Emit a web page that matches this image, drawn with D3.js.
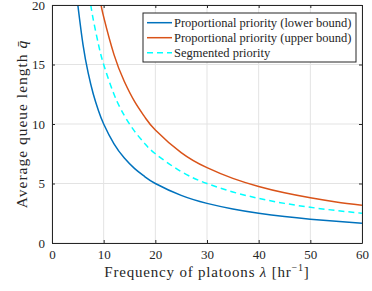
<!DOCTYPE html>
<html>
<head>
<meta charset="utf-8">
<script src="https://cdn.jsdelivr.net/npm/d3@7"></script>
<style>
  body { margin: 0; background: #fff; }
  svg text { font-family: "Liberation Serif", serif; fill: #262626; }
</style>
</head>
<body>
<svg id="chart" width="372" height="291" font-family="Liberation Serif"></svg>
<script>
// values
const xTicks = [0, 10, 20, 30, 40, 50, 60];
const yTicks = [0, 5, 10, 15, 20];

const lowerLambda = [5, 6, 7, 8, 9, 10, 12, 14, 16, 18, 20, 25, 30, 35, 40, 45, 50, 55, 60];
const lowerQ = [20, 16.67, 14.29, 12.5, 11.11, 10, 8.33, 7.14, 6.25, 5.56, 5, 4, 3.33, 2.86, 2.5, 2.22, 2.0, 1.82, 1.67];

const upperLambda = [9.5, 10, 12, 14, 16, 18, 20, 25, 30, 35, 40, 45, 50, 55, 60];
const upperQ = [20, 19, 15.83, 13.57, 11.88, 10.56, 9.5, 7.6, 6.33, 5.43, 4.75, 4.22, 3.8, 3.45, 3.17];

const segLambda = [7.5, 8, 9, 10, 12, 14, 16, 18, 20, 25, 30, 35, 40, 45, 50, 55, 60];
const segQ = [20, 18.75, 16.67, 15, 12.5, 10.71, 9.38, 8.33, 7.5, 6, 5, 4.29, 3.75, 3.33, 3.0, 2.73, 2.5];

const seriesNames = ["Proportional priority (lower bound)", "Proportional priority (upper bound)", "Segmented priority"];
const seriesColors = ["#0072BD", "#D95319", "#00FFFF"];

const margin = { left: 52, right: 10, top: 5, bottom: 48 };
const W = 372, H = 291;
const serif = "Liberation Serif";

const svg = d3.select("#chart");

const x = d3.scaleLinear().domain([0, 60]).range([margin.left, W - margin.right]);
const y = d3.scaleLinear().domain([0, 20]).range([H - margin.bottom, margin.top]);

// grid
svg.append("g")
  .selectAll("line")
  .data(xTicks)
  .join("line")
  .attr("x1", d => x(d)).attr("x2", d => x(d))
  .attr("y1", y(0)).attr("y2", y(20))
  .attr("stroke", "#e3e3e3").attr("stroke-width", 1);
svg.append("g")
  .selectAll("line")
  .data(yTicks)
  .join("line")
  .attr("x1", x(0)).attr("x2", x(60))
  .attr("y1", d => y(d)).attr("y2", d => y(d))
  .attr("stroke", "#e3e3e3").attr("stroke-width", 1);

// curves
svg.append("clipPath").attr("id", "clip")
  .append("rect")
  .attr("x", x(0)).attr("y", y(20))
  .attr("width", x(60) - x(0)).attr("height", y(0) - y(20));

const line = d3.line()
  .x(d => x(d[0]))
  .y(d => y(d[1]))
  .curve(d3.curveNatural);

const series = [
  d3.zip(lowerLambda, lowerQ),
  d3.zip(upperLambda, upperQ),
  d3.zip(segLambda, segQ)
];

svg.append("g").attr("clip-path", "url(#clip)")
  .selectAll("path")
  .data(series)
  .join("path")
  .attr("d", line)
  .attr("fill", "none")
  .attr("stroke", (d, i) => seriesColors[i])
  .attr("stroke-width", 1.5)
  .attr("stroke-dasharray", (d, i) => i == 2 ? "6,4" : null);

// axes (MATLAB style, ticks pointing in, box on)
const axisColor = "#262626";
const tl = 3;

const gx = svg.append("g")
  .attr("transform", `translate(0,${y(0)})`)
  .call(d3.axisBottom(x).tickValues(xTicks).tickSizeInner(-tl).tickSizeOuter(0).tickPadding(7));
const gy = svg.append("g")
  .attr("transform", `translate(${x(0)},0)`)
  .call(d3.axisLeft(y).tickValues(yTicks).tickSizeInner(-tl).tickSizeOuter(0).tickPadding(7));
const gt = svg.append("g")
  .attr("transform", `translate(0,${y(20)})`)
  .call(d3.axisTop(x).tickValues(xTicks).tickSizeInner(-tl).tickSizeOuter(0).tickFormat(""));
const gr = svg.append("g")
  .attr("transform", `translate(${x(60)},0)`)
  .call(d3.axisRight(y).tickValues(yTicks).tickSizeInner(-tl).tickSizeOuter(0).tickFormat(""));

[gx, gy, gt, gr].forEach(g => {
  g.attr("font-family", serif);
  g.select(".domain").attr("stroke", axisColor).attr("stroke-width", 1);
  g.selectAll(".tick line").attr("stroke", axisColor);
  g.selectAll(".tick text")
    .attr("font-family", serif)
    .attr("font-size", 13)
    .attr("fill", axisColor);
});

// axis labels
const xl = svg.append("text")
  .attr("x", (x(0) + x(60)) / 2)
  .attr("y", 277)
  .attr("text-anchor", "middle")
  .attr("font-family", serif)
  .attr("font-size", 15)
  .attr("letter-spacing", 0.8);
xl.append("tspan").text("Frequency of platoons ");
xl.append("tspan").attr("font-style", "italic").text("λ");
xl.append("tspan").text(" [hr");
xl.append("tspan").attr("font-size", 10).attr("dy", -6).text("−1");
xl.append("tspan").attr("dy", 6).text("]");

const yl = svg.append("text")
  .attr("transform", `translate(27,${(y(0) + y(20)) / 2}) rotate(-90)`)
  .attr("text-anchor", "middle")
  .attr("font-family", serif)
  .attr("font-size", 15.5)
  .attr("letter-spacing", 1);
yl.append("tspan").text("Average queue length ");
yl.append("tspan").attr("font-style", "italic").text("q̄");

// legend
const lg = svg.append("g");
lg.append("rect")
  .attr("x", 143).attr("y", 13)
  .attr("width", 213).attr("height", 49)
  .attr("fill", "#fff").attr("stroke", "#262626").attr("stroke-width", 1);
const rows = lg.selectAll("g")
  .data(seriesNames)
  .join("g")
  .attr("transform", (d, i) => `translate(0,${22.7 + i * 15})`);
rows.append("line")
  .attr("x1", 147).attr("x2", 172)
  .attr("stroke", (d, i) => seriesColors[i])
  .attr("stroke-width", 1.5)
  .attr("stroke-dasharray", (d, i) => i == 2 ? "6,4" : null);
rows.append("text")
  .attr("x", 174).attr("dy", "0.35em")
  .attr("font-family", serif)
  .attr("font-size", 12.5)
  .attr("fill", "#000")
  .text(d => d);
</script>
</body>
</html>
